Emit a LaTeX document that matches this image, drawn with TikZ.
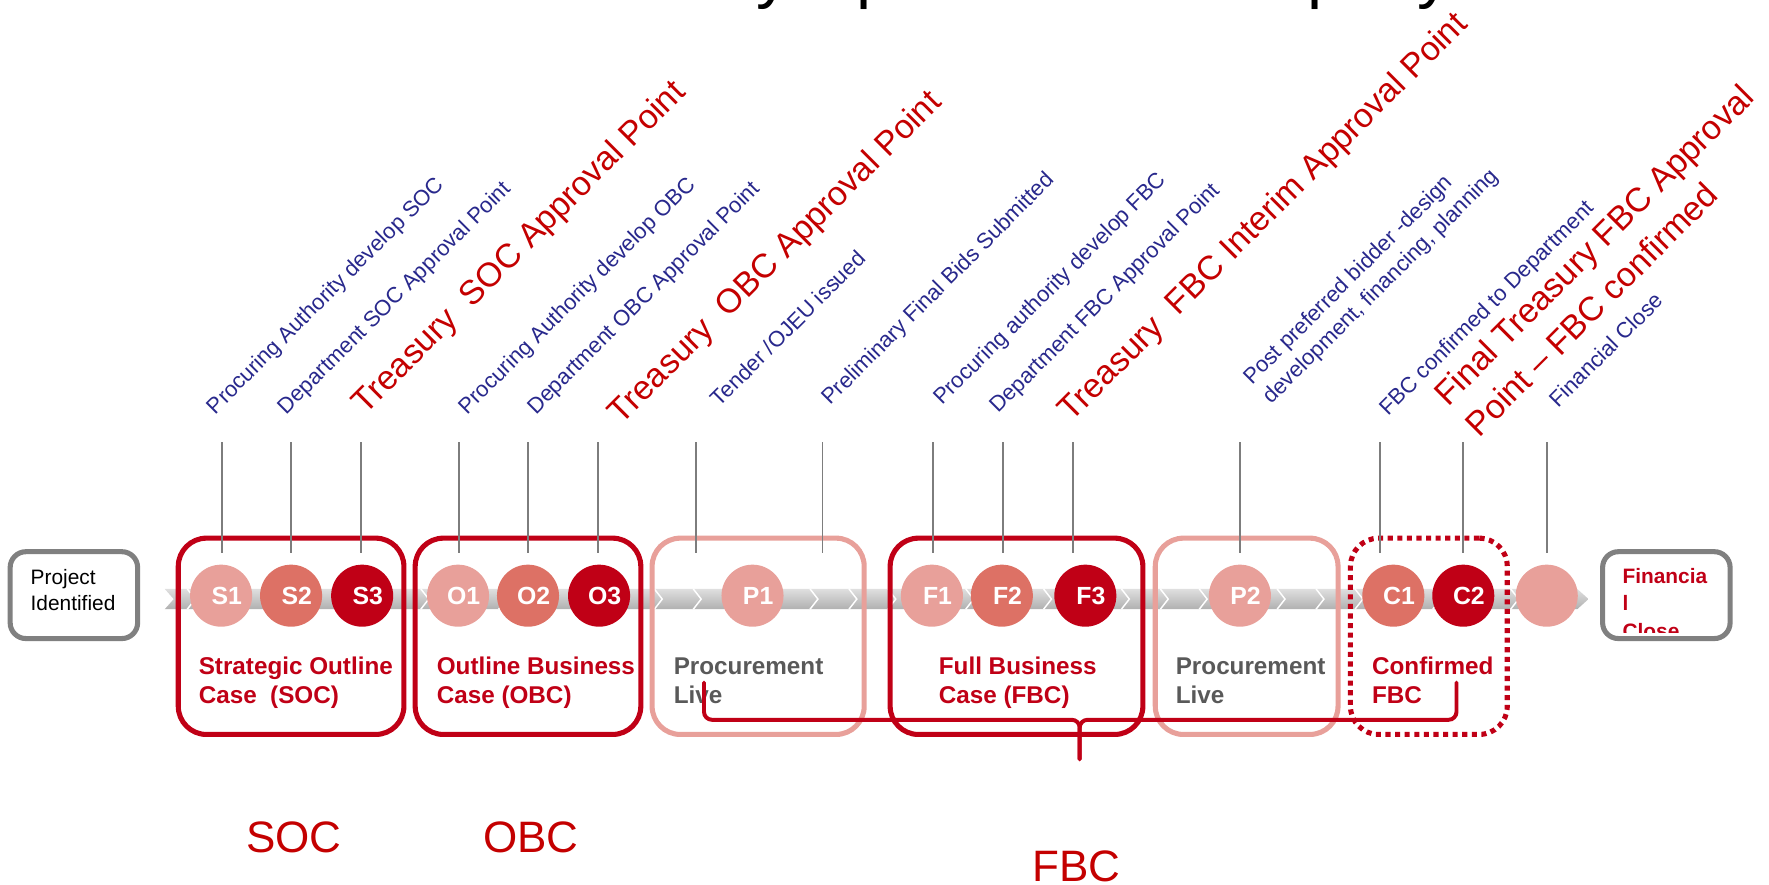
\documentclass[tikz,border=0pt]{standalone}
\usepackage{fontspec}
\setmainfont{Liberation Sans}
\usetikzlibrary{calc}

\definecolor{stepblue}{RGB}{40,40,140}
\definecolor{accent}{RGB}{192,0,22}
\definecolor{redtext}{RGB}{196,0,0}
\definecolor{palered}{RGB}{232,160,154}
\definecolor{midred}{RGB}{221,113,101}
\definecolor{tickgray}{RGB}{125,125,125}
\definecolor{livegray}{RGB}{89,89,89}
\definecolor{framegray}{RGB}{128,128,128}

\tikzset{
  milestone/.style={circle, minimum size=55pt, inner sep=0pt, outer sep=0pt},
  lightdot/.style={milestone, fill=palered},
  middot/.style={milestone, fill=midred},
  darkdot/.style={milestone, fill=accent},
  dotlabel/.style={text=white, inner sep=0pt, xshift=5pt,
    font=\fontsize{22}{22}\selectfont\bfseries},
  phasebox/.style={draw=accent, line width=4.5pt, rounded corners=25pt,
    minimum height=174pt, inner sep=0pt},
  livebox/.style={phasebox, draw=palered},
  dottedbox/.style={phasebox, dash pattern=on 4.5pt off 4pt},
  endbox/.style={draw=framegray, line width=4.5pt, rounded corners=14pt,
    minimum width=113pt, minimum height=77pt, inner sep=0pt},
  phasetext/.style={anchor=base west, inner sep=0pt, align=left, text=accent,
    font=\fontsize{21.5}{26}\selectfont\bfseries},
  livetext/.style={phasetext, text=livegray},
  steplabel/.style={rotate=45, anchor=base west, inner sep=0pt,
    text=stepblue, font=\fontsize{19.5}{24.5}\selectfont},
  approvallabel/.style={rotate=45, anchor=base west, inner sep=0pt,
    text=redtext, font=\fontsize{30}{39}\selectfont},
  tickline/.style={draw=tickgray, line width=1.5pt},
  acronym/.style={anchor=base west, inner sep=0pt, text=redtext,
    font=\fontsize{39}{39}\selectfont},
  titleglyph/.style={anchor=base west, inner sep=0pt,
    font=\fontsize{60}{60}\selectfont},
  bracestyle/.style={draw=accent, line width=3.5pt, rounded corners=7pt,
    line cap=round}
}

\begin{document}
\begin{tikzpicture}[x=1pt,y=-1pt]
\useasboundingbox (0,0) rectangle (1568,784);

% heading line (only its descenders fall inside the page)
\begin{scope}
  \clip (0,0) rectangle (1568,784);
  \foreach \gx/\g [count=\i] in {670/y,759/p,1159/p,1256/y}
    \node[titleglyph] (head\i) at (\gx,-3.7) {\g};
\end{scope}

% timeline band with chevrons
\shade[top color=gray!25, bottom color=gray!62]
  (146,522) -- (1398,522) -- (1408,531) -- (1398,540) -- (146,540) -- (154,531) -- cycle;
\foreach \k in {0,...,35}
  \draw[white, line width=1.3pt] ({166+34.5*\k},522) -- ({173+34.5*\k},531) -- ({166+34.5*\k},540);

% phase boxes
\node[phasebox, minimum width=200pt] (socbox) at (258,564) {};
\node[phasebox, minimum width=200pt] (obcbox) at (468,564) {};
\node[livebox, minimum width=188pt] (procbox1) at (672,564) {};
\node[phasebox, minimum width=224pt] (fbcbox) at (901,564) {};
\node[livebox, minimum width=162pt] (procbox2) at (1105,564) {};
\node[dottedbox, minimum width=139pt] (confbox) at (1266.5,564) {};

% start and end boxes
\node[endbox] (startbox) at (65.5,527.5) {};
\node[anchor=base west, inner sep=0pt, align=left,
      font=\fontsize{18.5}{23.3}\selectfont] (starttext) at (27,541) {Project\\Identified};
\node[endbox] (closebox) at (1477,527.5) {};
\begin{scope}
  \clip (1422,491) rectangle (1532,561);
  \node[anchor=base west, inner sep=0pt, align=left, text=accent,
        font=\fontsize{18.5}{24.4}\selectfont\bfseries] (closetext) at (1438,565.8) {Financia\\l\\Close};
\end{scope}

% milestones
\node[lightdot, label={[dotlabel]center:S1}] (s1) at (196,528) {};
\node[middot,   label={[dotlabel]center:S2}] (s2) at (258,528) {};
\node[darkdot,  label={[dotlabel]center:S3}] (s3) at (321,528) {};
\node[lightdot, label={[dotlabel]center:O1}] (o1) at (406,528) {};
\node[middot,   label={[dotlabel]center:O2}] (o2) at (468,528) {};
\node[darkdot,  label={[dotlabel]center:O3}] (o3) at (531,528) {};
\node[lightdot, label={[dotlabel]center:P1}] (p1) at (667,528) {};
\node[lightdot, label={[dotlabel]center:F1}] (f1) at (826,528) {};
\node[middot,   label={[dotlabel]center:F2}] (f2) at (888,528) {};
\node[darkdot,  label={[dotlabel]center:F3}] (f3) at (962,528) {};
\node[lightdot, label={[dotlabel]center:P2}] (p2) at (1099,528) {};
\node[middot,   label={[dotlabel]center:C1}] (c1) at (1235,528) {};
\node[darkdot,  label={[dotlabel]center:C2}] (c2) at (1297,528) {};
\node[lightdot] (fc) at (1371,528) {};

% phase captions
\node[phasetext] (soctext) at (176,623.5) {Strategic Outline\\Case\ \ (SOC)};
\node[phasetext] (obctext) at (387,623.5) {Outline Business\\Case (OBC)};
\node[livetext]  (proctext1) at (597,623.5) {Procurement\\Live};
\node[phasetext] (fbctext) at (832,623.5) {Full Business\\Case (FBC)};
\node[livetext]  (proctext2) at (1042,623.5) {Procurement\\Live};
\node[phasetext] (conftext) at (1216,623.5) {Confirmed\\FBC};

% leader ticks
\foreach \x [count=\i] in {197,258,320,407,468,530,617,729,827,889,951,1099,1223,1297,1371} {
  \coordinate (tick\i top) at (\x,392);
  \coordinate (tick\i foot) at (\x,490);
  \draw[tickline] (tick\i top) -- (tick\i foot);
}

% step descriptions
\node[steplabel] (l1) at (191,368) {Procuring Authority develop SOC};
\node[steplabel] (l2) at (254,368) {Department SOC Approval Point};
\node[approvallabel] (l3) at (324,368) {Treasury\ \ SOC Approval Point};
\node[steplabel] (l4) at (414,368) {Procuring Authority develop OBC};
\node[steplabel] (l5) at (475,368) {Department OBC Approval Point};
\node[approvallabel] (l6) at (551,377) {Treasury\ \ OBC Approval Point};
\node[steplabel] (l7) at (638,361) {Tender /OJEU issued};
\node[steplabel] (l8) at (736,360) {Preliminary Final Bids Submitted};
\node[steplabel] (l9) at (835,360) {Procuring authority develop FBC};
\node[steplabel] (l10) at (885,367) {Department FBC Approval Point};
\node[approvallabel] (l11) at (950,375) {Treasury\ \ FBC Interim Approval Point};
\node[steplabel, align=left] (l12) at (1127,359) {Post preferred bidder -design\\development, financing, planning};
\node[steplabel] (l13) at (1230.5,369) {FBC confirmed to Department};
\node[approvallabel, align=left] (l14) at (1311,388.5) {Final Treasury FBC Approval\\Point – FBC confirmed};
\node[steplabel] (l15) at (1381,362) {Financial Close};

% brace grouping the FBC stages
\coordinate (braceL) at (624,605);
\coordinate (braceR) at (1291,605);
\coordinate (braceTip) at (957,673);
\draw[bracestyle] (braceL) -- (624,638) -- (957,638) -- (braceTip);
\draw[bracestyle] (braceR) -- (1291,638) -- (957,638) -- (braceTip);

% stage acronyms
\node[acronym] (socacr) at (218,756) {SOC};
\node[acronym] (obcacr) at (428,756) {OBC};
\node[acronym] (fbcacr) at (915,781.6) {FBC};
\end{tikzpicture}
\end{document}
